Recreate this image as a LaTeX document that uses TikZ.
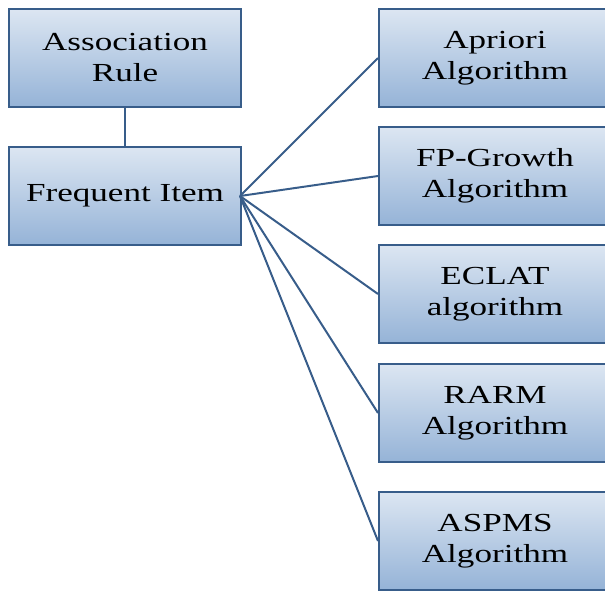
\documentclass[tikz,border=0pt]{standalone}
\usepackage{fontspec}
\setmainfont{Liberation Serif}
\newfontfamily\boxfont{Liberation Serif}[FakeStretch=1.35]
\definecolor{edgeblue}{HTML}{385D8A}
\definecolor{topblue}{HTML}{DCE6F2}
\definecolor{botblue}{HTML}{95B3D7}
\tikzset{
 box/.style={draw=edgeblue, line width=2pt, top color=topblue, bottom color=botblue,
   minimum width=232pt, minimum height=98pt, inner sep=0pt, align=center,
   font=\boxfont\fontsize{26}{31}\selectfont, anchor=north west},
 link/.style={draw=edgeblue, line width=2pt}
}
\begin{document}
\begin{tikzpicture}[x=1pt,y=-1pt]
\useasboundingbox (0,0) rectangle (605,590);
\clip (0,0) rectangle (605,590);
\node[box] (ar) at (8,8) {Association\\Rule};
\node[box] (fi) at (8,146) {Frequent Item};
\node[box] (ap) at (378,8) {Apriori\\Algorithm};
\node[box] (fp) at (378,126) {FP-Growth\\Algorithm};
\node[box] (ec) at (378,244) {ECLAT\\algorithm};
\node[box] (ra) at (378,363) {RARM\\Algorithm};
\node[box] (as) at (378,491) {ASPMS\\Algorithm};
\coordinate (hub) at ([xshift=-2pt]fi.east);
\draw[link] (ar.south) -- (fi.north);
\foreach \t in {ap,fp,ec,ra,as}{\draw[link] (hub) -- (\t.west);}
\end{tikzpicture}
\end{document}
